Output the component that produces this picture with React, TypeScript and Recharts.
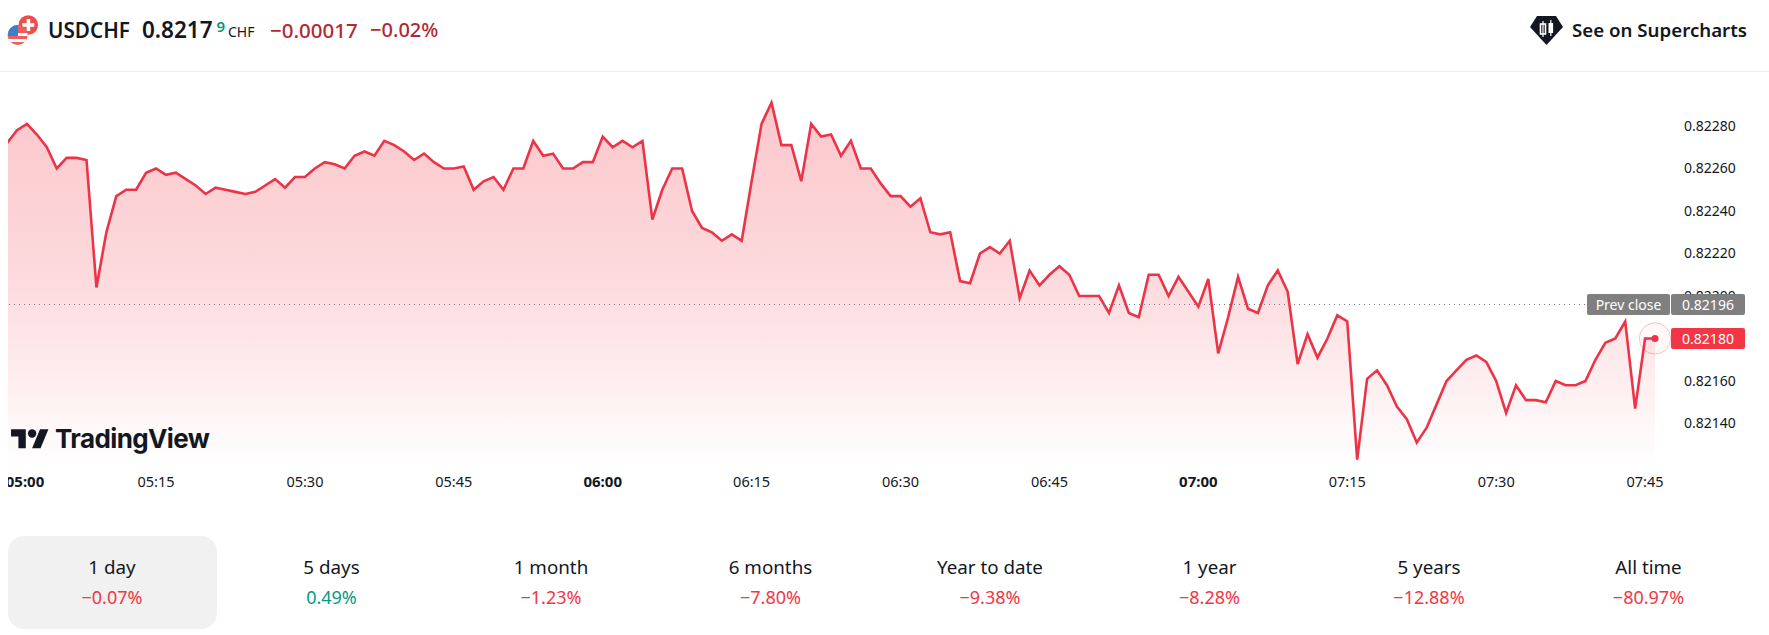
import React from 'react';
import { ComposedChart, Area, XAxis, YAxis, ReferenceLine, ReferenceDot } from 'recharts';

const prices = [
  0.82272, 0.82278, 0.82281, 0.82276, 0.8227, 0.8226, 0.82265, 0.82265, 0.82264, 0.82204,
  0.8223, 0.82247, 0.8225, 0.8225, 0.82258, 0.8226, 0.82257, 0.82258, 0.82255, 0.82252,
  0.82248, 0.82251, 0.8225, 0.82249, 0.82248, 0.82249, 0.82252, 0.82255, 0.82251, 0.82256,
  0.82256, 0.8226, 0.82263, 0.82262, 0.8226, 0.82266, 0.82268, 0.82266, 0.82273, 0.82271,
  0.82268, 0.82264, 0.82267, 0.82263, 0.8226, 0.8226, 0.82261, 0.8225, 0.82254, 0.82256,
  0.8225, 0.8226, 0.8226, 0.82273, 0.82266, 0.82267, 0.8226, 0.8226, 0.82263, 0.82263,
  0.82275, 0.8227, 0.82273, 0.8227, 0.82273, 0.82236, 0.8225, 0.8226, 0.8226, 0.8224,
  0.82232, 0.8223, 0.82226, 0.82229, 0.82226, 0.82254, 0.82281, 0.82291, 0.82271, 0.82271,
  0.82254, 0.82281, 0.82275, 0.82276, 0.82266, 0.82273, 0.8226, 0.8226, 0.82253, 0.82247,
  0.82247, 0.82242, 0.82246, 0.8223, 0.82229, 0.8223, 0.82207, 0.82206, 0.8222, 0.82223,
  0.8222, 0.82226, 0.82199, 0.82212, 0.82205, 0.8221, 0.82214, 0.8221, 0.822, 0.822,
  0.822, 0.82192, 0.82205, 0.82192, 0.8219, 0.8221, 0.8221, 0.822, 0.82209, 0.82202,
  0.82195, 0.82208, 0.82173, 0.8219, 0.82209, 0.82194, 0.82192, 0.82205, 0.82212, 0.82202,
  0.82168, 0.82182, 0.82171, 0.8218, 0.82191, 0.82188, 0.82123, 0.82161, 0.82165, 0.82158,
  0.82148, 0.82142, 0.82131, 0.82138, 0.82149, 0.8216, 0.82165, 0.8217, 0.82172, 0.82169,
  0.8216, 0.82145, 0.82158, 0.82151, 0.82151, 0.8215, 0.8216, 0.82158, 0.82158, 0.8216,
  0.8217, 0.82178, 0.8218, 0.82188, 0.82147, 0.8218, 0.8218,
];

const priceTicks = [0.8214, 0.8216, 0.8218, 0.822, 0.8222, 0.8224, 0.8226, 0.8228];
const timeTickMinutes = [0, 15, 30, 45, 60, 75, 90, 105, 120, 135, 150, 165];
const timeTickLabels = ['05:00', '05:15', '05:30', '05:45', '06:00', '06:15', '06:30', '06:45', '07:00', '07:15', '07:30', '07:45'];
const boldTimeLabels = ['05:00', '06:00', '07:00'];

const periodNames = ['1 day', '5 days', '1 month', '6 months', 'Year to date', '1 year', '5 years', 'All time'];
const periodChanges = ['−0.07%', '0.49%', '−1.23%', '−7.80%', '−9.38%', '−8.28%', '−12.88%', '−80.97%'];

const PREV_CLOSE = 0.82196;
const LAST_PRICE = 0.8218;
const LAST_MINUTE = 166;

const RED = '#f23645';
const LINE_RED = '#ec3348';
const GREEN = '#089981';
const DARK = '#131722';
const GRAY_BOX = '#7f7f7f';
const FONT = '"Noto Sans", sans-serif';

const chartData = prices.map((price, minute) => ({ minute, price }));

function TimeTick(props: any) {
  const label = timeTickLabels[timeTickMinutes.indexOf(props.payload.value)];
  const bold = boldTimeLabels.includes(label);
  const x = label === '05:00' ? 25 : props.x;
  return (
    <text x={x} y={486.7} textAnchor="middle" fontFamily={FONT} fontSize={bold ? 15 : 14.5} fontWeight={bold ? 700 : 400} fill={DARK}>
      {label}
    </text>
  );
}

const abs = (left: number, top: number, extra: React.CSSProperties = {}): React.CSSProperties => ({
  position: 'absolute',
  left,
  top,
  whiteSpace: 'nowrap',
  fontFamily: FONT,
  ...extra,
});

function Flag() {
  return (
    <svg style={{ position: 'absolute', left: 7, top: 14 }} width={33} height={32} viewBox="0 0 33 32">
      <circle cx={21.3} cy={11} r={9.8} fill="#e8504f" />
      <rect x={19.6} y={5} width={3.6} height={12} fill="#fff" />
      <rect x={15.3} y={9.2} width={12} height={3.6} fill="#fff" />
      <defs>
        <clipPath id="usc"><circle cx={10.7} cy={21} r={10} /></clipPath>
      </defs>
      <g clipPath="url(#usc)">
        <rect x={0} y={11} width={22} height={22} fill="#ec5f5e" />
        <rect x={0} y={19} width={22} height={3} fill="#fff" />
        <rect x={0} y={25} width={22} height={3} fill="#fff" />
        <rect x={0} y={11} width={11} height={11} fill="#3b7fd0" />
      </g>
    </svg>
  );
}

function Supercharts() {
  return (
    <svg style={{ position: 'absolute', left: 1530, top: 16 }} width={33} height={29} viewBox="0 0 33 29">
      <path d="M7 0H26L33 11L16.5 29L0 11Z" fill="#131722" />
      <rect x={10.5} y={8} width={5} height={10} fill="none" stroke="#fff" strokeWidth={1.6} />
      <rect x={12.4} y={5} width={1.2} height={16} fill="#fff" />
      <rect x={18.5} y={7} width={4.6} height={10} fill="#fff" />
      <rect x={20.2} y={4} width={1.2} height={16} fill="#fff" />
    </svg>
  );
}

function TvLogo() {
  return (
    <svg style={{ position: 'absolute', left: 10.7, top: 425 }} width={38} height={29.5} viewBox="0 0 36 28">
      <path d="M14 22H7V11H0V4h14v18zM28 22h-8l7.5-18h8L28 22z" fill="#131722" />
      <circle cx={20} cy={8} r={4} fill="#131722" />
    </svg>
  );
}

const boxText: React.CSSProperties = {
  color: '#fff',
  fontSize: 14,
  display: 'flex',
  alignItems: 'center',
  justifyContent: 'center',
  borderRadius: 2,
  height: 21,
  lineHeight: '21px',
};

export default function App() {
  return (
    <div style={{ position: 'absolute', left: 0, top: 0, width: 1769, height: 635, background: '#fff', overflow: 'hidden' }}>
      <div style={{ position: 'absolute', left: 0, top: 71, width: 1769, height: 1, background: '#eceef2' }} />

      <ComposedChart
        width={1769}
        height={635}
        data={chartData}
        margin={{ top: 70.75, right: 0, bottom: 139, left: 7.1 }}
        style={{ position: 'absolute', left: 0, top: 0 }}
      >
        <defs>
          <linearGradient id="areaFill" x1="0" y1="0" x2="0" y2="1">
            <stop offset="0%" stopColor={RED} stopOpacity={0.28} />
            <stop offset="50%" stopColor={RED} stopOpacity={0.18} />
            <stop offset="100%" stopColor={RED} stopOpacity={0} />
          </linearGradient>
        </defs>
        <XAxis
          dataKey="minute"
          type="number"
          domain={[0, LAST_MINUTE]}
          ticks={timeTickMinutes}
          interval={0}
          height={30}
          axisLine={false}
          tickLine={false}
          tick={<TimeTick />}
        />
        <YAxis
          orientation="right"
          type="number"
          domain={[0.8212, 0.82306]}
          ticks={priceTicks}
          width={114}
          axisLine={false}
          tickLine={false}
          tickSize={0}
          tickMargin={29}
          tickFormatter={(v: number) => v.toFixed(5)}
          tick={{ fontFamily: FONT, fontSize: 14, fill: DARK }}
          allowDataOverflow
        />
        <Area
          dataKey="price"
          type="linear"
          stroke={LINE_RED}
          strokeWidth={2.6}
          fill="url(#areaFill)"
          fillOpacity={1}
          dot={false}
          activeDot={false}
          isAnimationActive={false}
        />
        <ReferenceLine y={PREV_CLOSE} stroke="#787b86" strokeWidth={1} strokeDasharray="1 4" />
        <ReferenceDot x={LAST_MINUTE} y={LAST_PRICE} r={15.7} fill={RED} fillOpacity={0.03} stroke={RED} strokeOpacity={0.3} strokeWidth={1} />
        <ReferenceDot x={LAST_MINUTE} y={LAST_PRICE} r={3.6} fill={LINE_RED} stroke="none" />
      </ComposedChart>

      <div style={{ position: 'absolute', left: 0, top: 72, width: 8, height: 440, background: '#fff' }} />

      <div style={{ ...abs(1587, 294, { width: 83 }), ...boxText, background: GRAY_BOX }}>Prev close</div>
      <div style={{ ...abs(1671, 294, { width: 74 }), ...boxText, background: GRAY_BOX }}>{PREV_CLOSE.toFixed(5)}</div>
      <div style={{ ...abs(1671, 328, { width: 74 }), ...boxText, background: RED }}>{LAST_PRICE.toFixed(5)}</div>

      <Flag />
      <div style={abs(48, 16, { fontSize: 20.7, fontWeight: 600, color: DARK, lineHeight: '28px' })}>USDCHF</div>
      <div style={abs(142, 16, { fontSize: 22.5, fontWeight: 600, color: DARK, lineHeight: '28px' })}>0.8217</div>
      <div style={abs(216.5, 17, { fontSize: 15, fontWeight: 600, color: GREEN, lineHeight: '18px' })}>9</div>
      <div style={abs(228, 22, { fontSize: 14, color: DARK, lineHeight: '20px' })}>CHF</div>
      <div style={abs(270, 16, { fontSize: 20.5, fontWeight: 500, color: '#b22833', lineHeight: '28px' })}>−0.00017</div>
      <div style={abs(370, 16, { fontSize: 20, fontWeight: 500, color: '#b22833', lineHeight: '28px' })}>−0.02%</div>

      <Supercharts />
      <div style={abs(1572, 16, { fontSize: 18.7, fontWeight: 600, color: DARK, lineHeight: '28px' })}>See on Supercharts</div>

      <TvLogo />
      <div style={abs(55, 421, { fontSize: 26, fontWeight: 700, color: DARK, lineHeight: '36px', fontFamily: 'Inter, sans-serif', letterSpacing: -0.6 })}>TradingView</div>

      <div style={{ position: 'absolute', left: 8, top: 536, width: 209, height: 93, borderRadius: 16, background: '#f1f1f1' }} />
      {periodNames.map((name, i) => (
        <div key={name} style={abs(2 + i * 219.5, 554, { width: 220, textAlign: 'center' })}>
          <div style={{ fontSize: 18.8, color: DARK, lineHeight: '26px' }}>{name}</div>
          <div style={{ fontSize: 18, lineHeight: '24px', marginTop: 5, color: periodChanges[i].startsWith('−') ? RED : GREEN }}>{periodChanges[i]}</div>
        </div>
      ))}
    </div>
  );
}
